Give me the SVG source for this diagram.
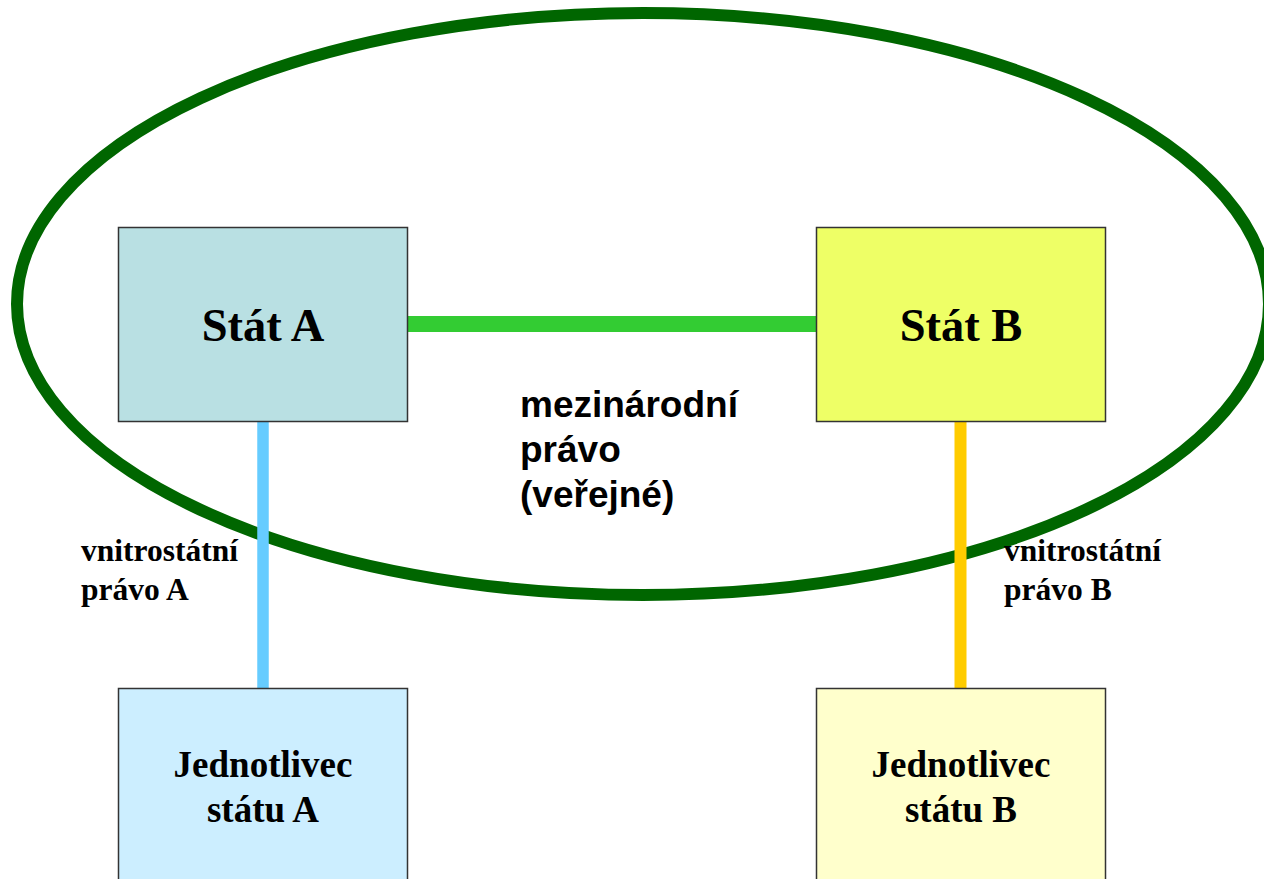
<svg xmlns="http://www.w3.org/2000/svg" width="1264" height="879" viewBox="0 0 1264 879">
<style>
.box{stroke:#333;stroke-width:1.5}
.serif{font-family:"Liberation Serif","Times New Roman",serif;font-weight:bold;fill:#000}
.sans{font-family:"Liberation Sans",Arial,sans-serif;font-weight:bold;fill:#000}
.conn{fill:none}
</style>
<rect width="1264" height="879" fill="#fff"/>
<g id="scope">
<ellipse cx="643" cy="304" rx="626" ry="291" fill="none" stroke="#006600" stroke-width="12"/>
</g>
<g id="connectors" class="conn">
<line x1="960.5" y1="421" x2="960.5" y2="688" stroke="#FFCC00" stroke-width="12"/>
<line x1="263" y1="421" x2="263" y2="688" stroke="#66CCFF" stroke-width="11.5"/>
<line x1="407" y1="324" x2="816" y2="324" stroke="#33CC33" stroke-width="16"/>
</g>
<g id="statA">
<rect class="box" x="118.5" y="227.5" width="289" height="194" fill="#B9E0E3"/>
<text class="serif" x="263" y="341" font-size="46.5" text-anchor="middle">Stát A</text>
</g>
<g id="statB">
<rect class="box" x="816.5" y="227.5" width="289" height="194" fill="#EEFF66"/>
<text class="serif" x="961" y="341" font-size="46.5" text-anchor="middle">Stát B</text>
</g>
<g id="jednotlivecA">
<rect class="box" x="118.5" y="688.5" width="289" height="200" fill="#CCEEFF"/>
<text class="serif" font-size="37" text-anchor="middle"><tspan x="263" y="777">Jednotlivec</tspan><tspan x="263" y="822">státu A</tspan></text>
</g>
<g id="jednotlivecB">
<rect class="box" x="816.5" y="688.5" width="289" height="200" fill="#FFFFCC"/>
<text class="serif" font-size="37" text-anchor="middle"><tspan x="961" y="777">Jednotlivec</tspan><tspan x="961" y="822">státu B</tspan></text>
</g>
<g id="labels">
<text class="sans" font-size="37"><tspan x="520" y="417">mezinárodní</tspan><tspan x="520" y="462">právo</tspan><tspan x="520" y="507">(veřejné)</tspan></text>
<text class="serif" font-size="31.5"><tspan x="81" y="561">vnitrostátní</tspan><tspan x="81" y="600">právo A</tspan></text>
<text class="serif" font-size="31.5"><tspan x="1004" y="561">vnitrostátní</tspan><tspan x="1004" y="600">právo B</tspan></text>
</g>
</svg>
